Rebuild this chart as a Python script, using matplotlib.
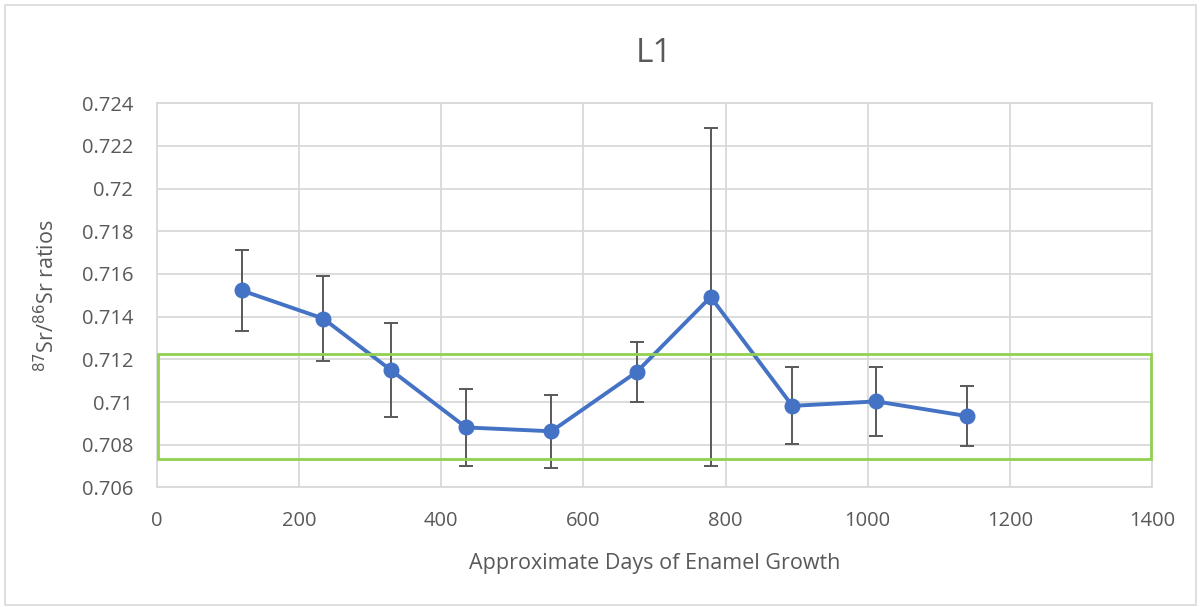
import matplotlib
matplotlib.use("Agg")
import matplotlib.pyplot as plt
from matplotlib.patches import Rectangle
from matplotlib.ticker import FuncFormatter, MultipleLocator

# Data
days = [119, 234, 329, 435, 555, 675, 779, 894, 1012, 1140]
ratios = [0.71523, 0.71391, 0.71150, 0.70881, 0.70863,
          0.71141, 0.71492, 0.70982, 0.71003, 0.70934]
errors = [0.0019, 0.0020, 0.0022, 0.0018, 0.0017,
          0.0014, 0.0079, 0.0018, 0.0016, 0.0014]
range_low = 0.70733
range_high = 0.71224

text_col = "#595959"
grid_col = "#D9D9D9"

plt.rcParams["font.family"] = ["Open Sans", "DejaVu Sans"]

fig = plt.figure(figsize=(12.01, 6.07), dpi=100)
ax = fig.add_axes([0.1307, 0.197, 0.8285, 0.633])

# outer chart border
fig.patches.append(Rectangle((5 / 1201, 2 / 607), 1191 / 1201, 600 / 607,
                             transform=fig.transFigure, fill=False,
                             edgecolor=grid_col, linewidth=1.2))

# green range box
ax.add_patch(Rectangle((1, range_low), 1397, range_high - range_low,
                       fill=False, edgecolor="#92D050", linewidth=2,
                       clip_on=False, zorder=5))

ax.errorbar(days, ratios, yerr=errors, fmt="none", ecolor="#595959",
            elinewidth=1.4, capsize=5, capthick=1.4, zorder=3)
ax.plot(days, ratios, color="#4472C4", linewidth=2.8, marker="o",
        markersize=10.5, zorder=4)

ax.set_xlim(0, 1400)
ax.set_ylim(0.706, 0.724)
ax.xaxis.set_major_locator(MultipleLocator(200))
ax.yaxis.set_major_locator(MultipleLocator(0.002))
ax.yaxis.set_major_formatter(FuncFormatter(lambda v, p: "%g" % round(v, 3)))

ax.grid(True, color=grid_col, linewidth=1.3)
ax.set_axisbelow(True)
for s in ax.spines.values():
    s.set_color(grid_col)
    s.set_linewidth(1.3)
ax.tick_params(length=0, labelsize=14.5, colors=text_col)
ax.tick_params(axis="y", pad=17)
ax.tick_params(axis="x", pad=17)

ax.set_title("L1", fontsize=24, color=text_col, pad=30)
ax.set_xlabel("Approximate Days of Enamel Growth", fontsize=15.5,
              color=text_col, labelpad=16)
ax.set_ylabel("$^{87}$Sr/$^{86}$Sr ratios", fontsize=15.5,
              color=text_col, labelpad=16)

plt.savefig("out.png", dpi=100)
